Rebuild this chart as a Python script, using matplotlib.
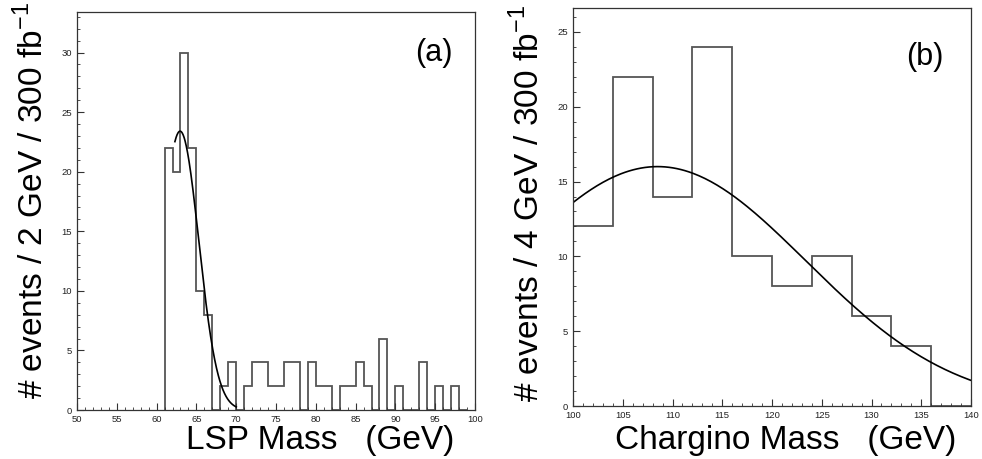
import numpy as np
import matplotlib.pyplot as plt
from matplotlib.ticker import MultipleLocator

plt.rcParams['font.family'] = ['Liberation Sans', 'DejaVu Sans']

# panel (a): LSP mass, 1 GeV bins from 61 to 99
lsp_edges = np.arange(61, 100, 1)
lsp_counts = [22, 20, 30, 22, 10, 8, 0, 2, 4, 0,
              2, 4, 4, 2, 2, 4, 4, 0, 4, 2,
              2, 0, 2, 2, 4, 2, 0, 6, 0, 2,
              0, 0, 4, 0, 2, 0, 2, 0]
# gaussian fit: amplitude, mean, sigma, drawn range
lsp_fit = (23.4, 62.95, 2.35)
lsp_fit_range = (62.3, 70.0)

# panel (b): chargino mass, 4 GeV bins
chi_edges = np.arange(100, 144, 4)
chi_counts = [12, 22, 14, 24, 10, 8, 10, 6, 4, 0]
chi_fit = (16.0, 108.5, 14.9)
chi_fit_range = (100.0, 140.0)

W, H = 982, 459
fig = plt.figure(figsize=(W / 100, H / 100), dpi=100)


def add_axes(l, t, r, b):
    return fig.add_axes([l / W, 1 - b / H, (r - l) / W, (b - t) / H])


def gauss(x, p):
    a, mu, s = p
    return a * np.exp(-(x - mu) ** 2 / (2 * s ** 2))


def style(ax):
    ax.tick_params(which='both', direction='in', top=False, right=False,
                   labelsize=6.8, labelcolor='#222222', color='#333333')
    ax.tick_params(which='major', length=5, width=0.8)
    ax.tick_params(which='minor', length=2.5, width=0.6)
    ax.xaxis.set_major_locator(MultipleLocator(5))
    ax.xaxis.set_minor_locator(MultipleLocator(1))
    ax.yaxis.set_major_locator(MultipleLocator(5))
    ax.yaxis.set_minor_locator(MultipleLocator(1))
    for sp in ax.spines.values():
        sp.set_color('#333333')
        sp.set_linewidth(0.9)


ax1 = add_axes(77, 12, 475, 410)
ax1.stairs(lsp_counts, lsp_edges, color='#555555', lw=1.3)
xf = np.linspace(*lsp_fit_range, 200)
ax1.plot(xf, gauss(xf, lsp_fit), color='black', lw=1.2)
ax1.set_xlim(50, 100)
ax1.set_ylim(0, 33.4)
style(ax1)

ax2 = add_axes(573, 8, 971, 406)
ax2.stairs(chi_counts, chi_edges, color='#555555', lw=1.3)
xf = np.linspace(*chi_fit_range, 200)
ax2.plot(xf, gauss(xf, chi_fit), color='black', lw=1.2)
ax2.set_xlim(100, 140)
ax2.set_ylim(0, 26.6)
style(ax2)


def ftext(px, py, s, va='center', **kw):
    fig.text(px / W, 1 - py / H, s, ha='center', va=va, **kw)


ftext(33, 200, '# events / 2 GeV / 300 fb$^{\\mathregular{-1}}$', rotation=90, fontsize=24)
ftext(528, 203, '# events / 4 GeV / 300 fb$^{\\mathregular{-1}}$', rotation=90, fontsize=24)
ftext(320, 449, 'LSP Mass   (GeV)', va='baseline', fontsize=24)
ftext(786, 449, 'Chargino Mass   (GeV)', va='baseline', fontsize=24)
ftext(434, 53, '(a)', fontsize=22)
ftext(925, 57, '(b)', fontsize=22)

fig.savefig('out.png', dpi=100)
